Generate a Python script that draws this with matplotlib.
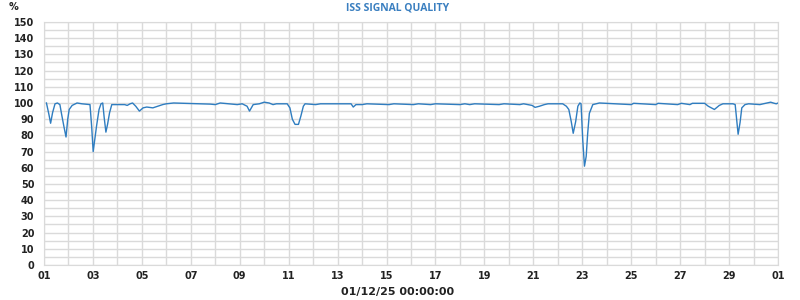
import matplotlib
matplotlib.use("Agg")
import matplotlib.pyplot as plt
from matplotlib.ticker import MultipleLocator

# Day offset from 01 Nov (0..30) and signal quality in %
days = [0.10, 0.20, 0.27, 0.35, 0.45, 0.55, 0.65, 0.72, 0.82, 0.90, 0.97, 1.03, 1.15, 1.35,
        1.55, 1.88, 1.95, 2.01, 2.08, 2.15, 2.25, 2.33, 2.40, 2.46, 2.53, 2.60, 2.68, 2.77,
        3.10, 3.30, 3.40, 3.52, 3.62, 3.75, 3.90, 4.05, 4.20, 4.45, 4.65, 4.85, 5.0, 5.3,
        6.8, 7.0, 7.2, 7.9, 8.1, 8.3, 8.4, 8.55, 8.8, 9.0, 9.2, 9.36, 9.5,
        9.94, 10.05, 10.15, 10.26, 10.4, 10.5, 10.6, 10.67, 11.1, 11.3, 12.55, 12.64, 12.75,
        13.0, 13.2, 14.1, 14.3, 15.1, 15.3, 15.8, 16.0, 17.0, 17.2, 17.4, 17.6, 18.6, 18.8,
        19.45, 19.6, 19.95, 20.07, 20.25, 20.45, 20.6, 21.2, 21.35, 21.45, 21.55, 21.63,
        21.73, 21.82, 21.9, 21.95, 22.02, 22.09, 22.16, 22.22, 22.29, 22.43, 22.7,
        24.0, 24.1, 25.0, 25.1, 25.9, 26.05, 26.4, 26.5, 27.0, 27.15, 27.4, 27.6, 27.75,
        28.16, 28.25, 28.32, 28.37, 28.45, 28.52, 28.65, 28.8, 29.26, 29.4, 29.7, 29.85,
        29.93, 30.0]
quality = [100, 93, 87.5, 94, 99.5, 100, 99, 93, 85, 79, 90, 96, 98.5, 100,
           99.5, 99, 85, 70, 78, 86, 96, 99.5, 100, 91, 82, 87, 94, 99,
           99, 99, 98.5, 99.5, 100, 98, 95, 97, 97.5, 97, 98, 99, 99.5, 100,
           99.3, 99, 100, 99, 99.5, 98, 95, 99, 99.5, 100.5, 100, 99, 99.5,
           99.5, 97, 90, 86.8, 86.8, 92, 98, 99.5, 99, 99.5, 99.5, 97.5, 99,
           99, 99.5, 99, 99.5, 99, 99.5, 99, 99.5, 99, 99.5, 99, 99.5, 99, 99.5,
           99, 99.5, 98.5, 97.3, 98, 99, 99.5, 99.5, 98, 96, 88.5, 81.3,
           88.5, 98, 100, 99.5, 77, 61, 67, 81, 93.6, 99, 100,
           99, 99.8, 99, 99.8, 99, 99.8, 99, 99.8, 99.8, 98, 96, 98.5, 99.5,
           99.5, 99, 88, 80.7, 88, 97, 99, 99.5, 99, 99.5, 100.5, 99.8,
           99.5, 100]

tick_days = list(range(0, 31, 2))
tick_labels = ["01", "03", "05", "07", "09", "11", "13", "15", "17", "19",
               "21", "23", "25", "27", "29", "01"]
y_ticks = list(range(0, 151, 10))

fig = plt.figure(figsize=(8, 3), dpi=100)
ax = fig.add_axes([0.055, 0.1167, 0.9175, 0.81])

ax.plot(days, quality, color="#2f7dc0", lw=1.0)

ax.set_xlim(0, 30)
ax.set_ylim(0, 150)
ax.set_xticks(tick_days)
ax.set_xticklabels(tick_labels)
ax.xaxis.set_minor_locator(MultipleLocator(1))
ax.set_yticks(y_ticks)
ax.yaxis.set_minor_locator(MultipleLocator(5))
ax.xaxis.remove_overlapping_locs = False
ax.yaxis.remove_overlapping_locs = False
ax.grid(True, which="minor", color="#dadada", lw=1, snap=True)
ax.grid(False, which="major")
ax.set_axisbelow(True)
for s in ax.spines.values():
    s.set_color("#dadada")
ax.tick_params(which="both", length=0)
ax.tick_params(axis="y", pad=7)
ax.tick_params(axis="x", pad=4)
for lab in ax.get_xticklabels() + ax.get_yticklabels():
    lab.set_fontsize(7)
    lab.set_fontweight("bold")
    lab.set_color("#222222")
    lab.set_family("DejaVu Sans")

fig.text(0.497, 0.975, "ISS SIGNAL QUALITY", ha="center", va="center",
         fontsize=7.5, fontweight="bold", color="#3a7fc0", family="Open Sans")
fig.text(0.017, 0.975, "%", ha="center", va="center", fontsize=7,
         fontweight="bold", color="#222222", family="DejaVu Sans")
fig.text(0.497, 0.027, "01/12/25 00:00:00", ha="center", va="center",
         fontsize=8, fontweight="bold", color="#222222", family="DejaVu Sans")

fig.savefig("out.png", dpi=100, facecolor="white")
